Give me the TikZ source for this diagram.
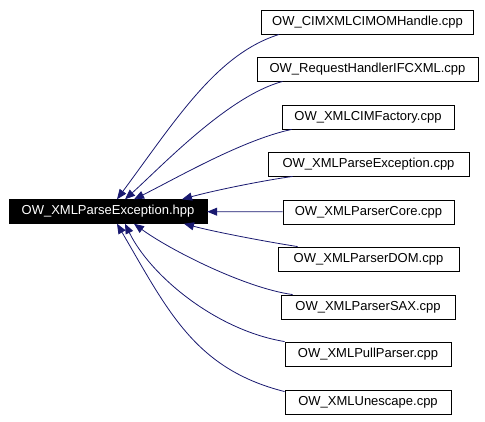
\documentclass[tikz,border=0pt]{standalone}
\usepackage{fontspec}
\setmainfont{Liberation Sans}
\usetikzlibrary{arrows.meta}
\definecolor{edgeblue}{HTML}{191970}
\tikzstyle{filebox}=[rectangle,draw=black,fill=white,line width=0.9pt,minimum height=24pt,inner sep=0pt,font=\fontsize{13}{14}\selectfont]
\tikzstyle{mainbox}=[rectangle,draw=black,fill=black,text=white,minimum width=198pt,minimum height=24pt,inner sep=0pt,font=\fontsize{13}{14}\selectfont]
\tikzstyle{dep}=[edgeblue,line width=0.8pt,{Triangle[length=10pt,width=8pt]}-]

\begin{document}
\begin{tikzpicture}[x=1pt,y=-1pt]
    \useasboundingbox (0,0) rectangle (485,421);

    \node[mainbox] (main) at (108,211.5) {OW\_XMLParseException.hpp};

    \foreach \pos/\name/\label/\boxw in {{(367.5,22)/f1/OW\_CIMXMLCIMOMHandle.cpp/212},
        {(367.5,69)/f2/OW\_RequestHandlerIFCXML.cpp/221},
        {(368,117)/f3/OW\_XMLCIMFactory.cpp/172},
        {(368.5,164)/f4/OW\_XMLParseException.cpp/201},
        {(368.5,212)/f5/OW\_XMLParserCore.cpp/171},
        {(368.5,259)/f6/OW\_XMLParserDOM.cpp/181},
        {(368,307)/f7/OW\_XMLParserSAX.cpp/174},
        {(368,354)/f8/OW\_XMLPullParser.cpp/166},
        {(368,402)/f9/OW\_XMLUnescape.cpp/166}}
        \node[filebox, minimum width=\boxw pt] (\name) at \pos {\label};

       \draw[dep] ([xshift=9pt]main.north) .. controls (177,118) and (217,54) .. ([xshift=18pt]f1.south west);
       \draw[dep] ([xshift=17pt]main.north) .. controls (161,167) and (228,96) .. ([xshift=26pt]f2.south west);
       \draw[dep] ([xshift=26pt]main.north) .. controls (175,179) and (242,140) .. ([xshift=10pt]f3.south west);
       \draw[dep] ([xshift=74pt]main.north) .. controls (212,191) and (260,181) .. ([xshift=25pt]f4.south west);
       \draw[dep] (main) -- (f5);
       \draw[dep] ([xshift=76pt]main.south) .. controls (215,232) and (268,242) .. ([xshift=20pt]f6.north west);
       \draw[dep] ([xshift=26pt]main.south) .. controls (170,250) and (245,288) .. ([xshift=12pt]f7.north west);
       \draw[dep] ([xshift=17pt]main.south) .. controls (150,275) and (215,330) .. (f8.north west);
       \draw[dep] ([xshift=9pt]main.south) .. controls (168,311) and (195,369) .. ([yshift=-2pt]f9.north west);

   \end{tikzpicture}
\end{document}
